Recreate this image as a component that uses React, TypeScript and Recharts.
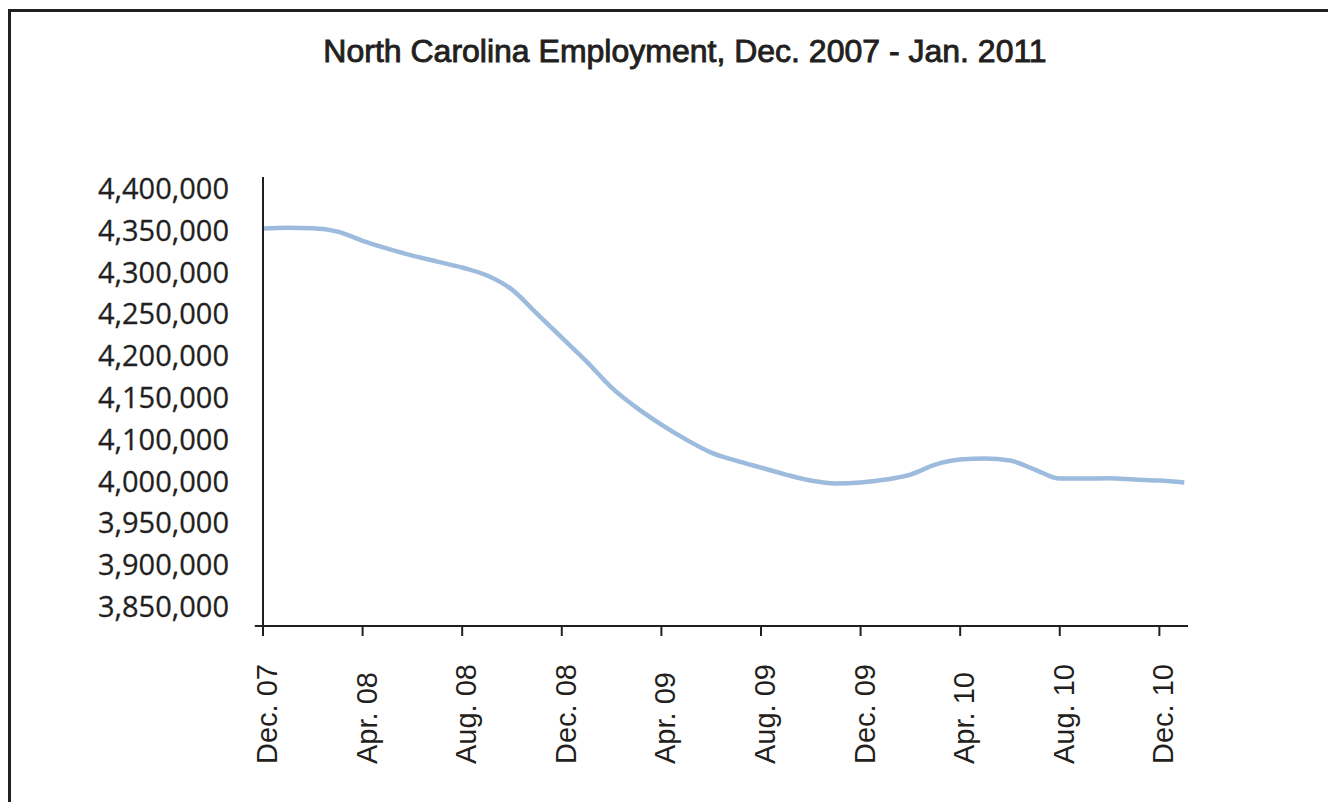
import React from "react";
import { LineChart, Line, XAxis, YAxis, ReferenceLine } from "recharts";

const monthIndex: number[] = [
  0, 1, 2, 3, 4, 5, 6, 7, 8, 9, 10, 11, 12, 13, 14, 15, 16, 17, 18,
  19, 20, 21, 22, 23, 24, 25, 26, 27, 28, 29, 30, 31, 32, 33, 34, 35, 36, 37,
];

const employment: number[] = [
  4302600, 4303500, 4303000, 4299000, 4288000, 4278700, 4270300, 4263100,
  4256000, 4246400, 4229600, 4200900, 4172200, 4143500, 4112400, 4088500,
  4068200, 4050200, 4034700, 4025100, 4016700, 4008400, 4001200, 3997600,
  3998800, 4002400, 4008400, 4020300, 4026300, 4027500, 4025100, 4014400,
  4003600, 4003600, 4004000, 4002400, 4001200, 3998800,
];

const xTickIndex: number[] = [0, 4, 8, 12, 16, 20, 24, 28, 32, 36];
const xTickLabels: string[] = [
  "Dec. 07", "Apr. 08", "Aug. 08", "Dec. 08", "Apr. 09",
  "Aug. 09", "Dec. 09", "Apr. 10", "Aug. 10", "Dec. 10",
];

const yTickValues: number[] = [
  3850000, 3900000, 3950000, 4000000, 4050000, 4100000,
  4150000, 4200000, 4250000, 4300000, 4350000,
];
const yTickLabels: string[] = [
  "3,850,000", "3,900,000", "3,950,000", "4,000,000", "4,100,000", "4,150,000",
  "4,200,000", "4,250,000", "4,300,000", "4,350,000", "4,400,000",
];

const yMin = 3827276;
const yMax = 4364280;
const xMax = 37.15;

const title = "North Carolina Employment, Dec. 2007 - Jan. 2011";

const data = monthIndex.map((i, k) => ({ i, v: employment[k] }));

const INK = "#231f20";

const XTick = (props: any) => {
  const { x, payload } = props;
  const idx = xTickIndex.indexOf(payload.value);
  const label = idx >= 0 ? xTickLabels[idx] : "";
  const bx = x + 14;
  const by = 764;
  return (
    <text
      x={bx}
      y={by}
      transform={`rotate(-90, ${bx}, ${by})`}
      textAnchor="start"
      fontFamily="'Liberation Sans', Arial, sans-serif"
      fontSize={29}
      fill={INK}
    >
      {label}
    </text>
  );
};

const YTick = (props: any) => {
  const { y, payload } = props;
  const idx = yTickValues.indexOf(payload.value);
  const label = idx >= 0 ? yTickLabels[idx] : "";
  return (
    <text
      x={229}
      y={y + 10}
      textAnchor="end"
      fontFamily="'Open Sans', sans-serif"
      fontSize={29}
      fill={INK}
      stroke={INK}
      strokeWidth={0.3}
    >
      {label}
    </text>
  );
};

export default function App() {
  return (
    <div style={{ position: "absolute", left: 0, top: 0, width: 1328, height: 802, overflow: "hidden", background: "#fff" }}>
      <LineChart
        width={1328}
        height={802}
        data={data}
        margin={{ top: 177, right: 140, bottom: 36, left: 163 }}
      >
        <XAxis
          dataKey="i"
          type="number"
          domain={[0, xMax]}
          ticks={xTickIndex}
          allowDataOverflow
          height={140}
          axisLine={{ stroke: INK, strokeWidth: 2 }}
          tickLine={{ stroke: INK, strokeWidth: 2 }}
          tickSize={10}
          tick={<XTick />}
          interval={0}
        />
        <YAxis
          type="number"
          domain={[yMin, yMax]}
          ticks={yTickValues}
          allowDataOverflow
          width={100}
          axisLine={{ stroke: INK, strokeWidth: 2 }}
          tickLine={false}
          tick={<YTick />}
          interval={0}
        />
        <ReferenceLine
          segment={[{ x: -0.33, y: yMin }, { x: 0, y: yMin }]}
          stroke={INK}
          strokeWidth={2}
          ifOverflow="visible"
        />
        <Line
          type="monotone"
          dataKey="v"
          stroke="#9dbbdc"
          strokeWidth={4.5}
          dot={false}
          isAnimationActive={false}
        />
      </LineChart>
      <svg
        width={1328}
        height={802}
        style={{ position: "absolute", left: 0, top: 0, pointerEvents: "none" }}
      >
        <rect x={8} y={9} width={1330} height={3} fill={INK} />
        <rect x={8} y={9} width={3} height={800} fill={INK} />
        <text
          x={685}
          y={62}
          textAnchor="middle"
          fontFamily="'Liberation Sans', Arial, sans-serif"
          fontSize={32}
          fill={INK}
          stroke={INK}
          strokeWidth={0.9}
        >
          {title}
        </text>
      </svg>
    </div>
  );
}
